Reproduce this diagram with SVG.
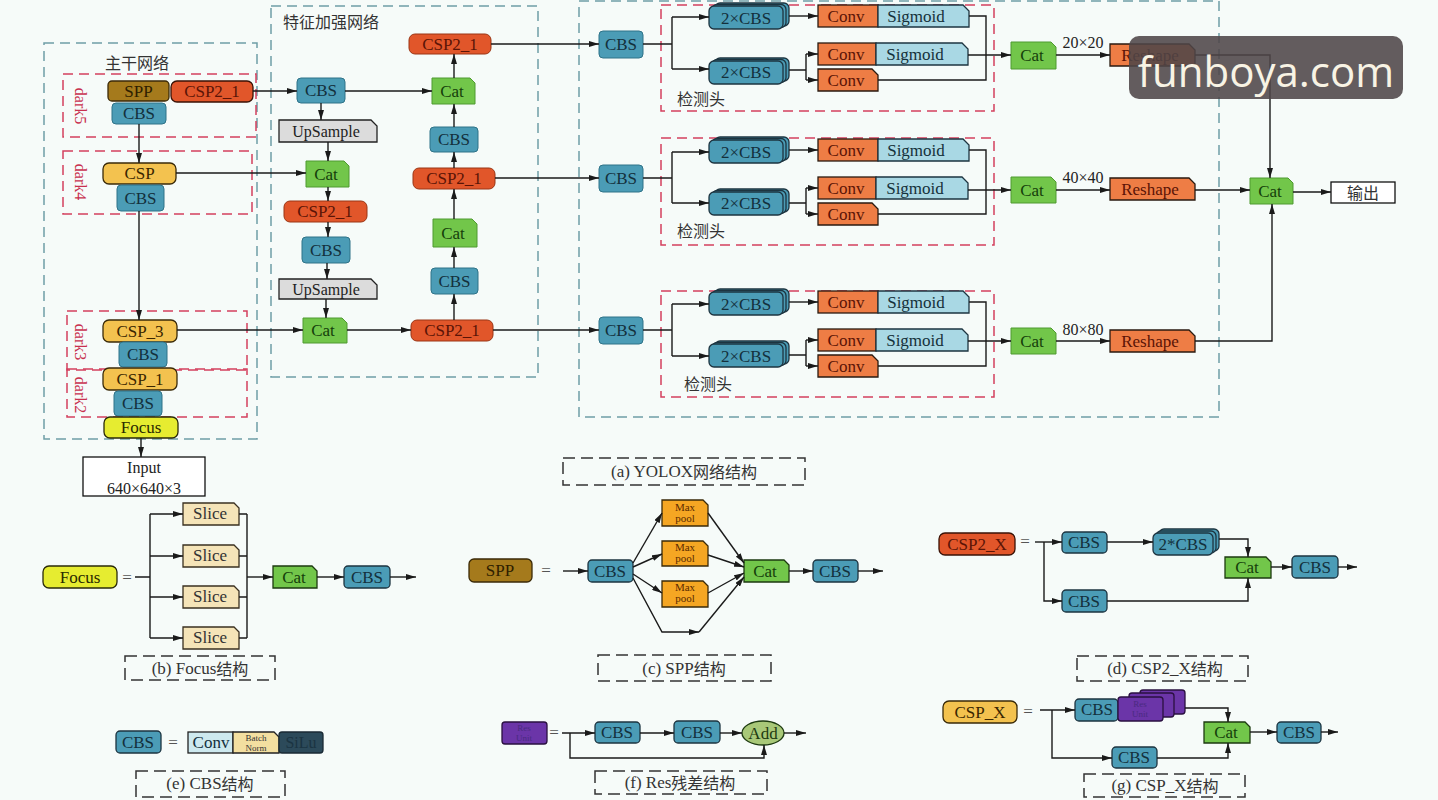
<svg xmlns="http://www.w3.org/2000/svg" width="1438" height="800" viewBox="0 0 1438 800">
<defs>
<marker id="a" viewBox="0 0 10 6" refX="10" refY="3" markerWidth="10" markerHeight="6" markerUnits="userSpaceOnUse" orient="auto"><path d="M0,0 L10,3 L0,6 z" fill="#1a1a1a"/></marker>
</defs>
<style>
text{font-family:"Liberation Serif","Noto Sans CJK SC",serif;text-anchor:middle;dominant-baseline:central;font-size:17px}
.cjk{font-family:"Noto Sans CJK SC","Liberation Serif",sans-serif;font-size:16px;fill:#333}
.s16{font-size:16px}
.s11{font-size:11px}
.s9{font-size:9px}
.c{fill:none;stroke:#1a1a1a;stroke-width:1.4}
.ca{fill:none;stroke:#1a1a1a;stroke-width:1.4;marker-end:url(#a)}
.gbox{fill:none;stroke:#6f9ea6;stroke-width:1.5;stroke-dasharray:10 6}
.rbox{fill:none;stroke:#d3405e;stroke-width:1.5;stroke-dasharray:10 6}
.kbox{fill:none;stroke:#333;stroke-width:1.5;stroke-dasharray:12 6}
.cbs{fill:#4b9cb6;stroke:#2f7388;stroke-width:1}
.cbsb{fill:#4b9cb6;stroke:#1d3440;stroke-width:1.3}
.tc{fill:#13303c}
.csp2{fill:#e1562a;stroke:#9a3514;stroke-width:1}
.csp2b{fill:#e1562a;stroke:#3a1206;stroke-width:1.3}
.tr{fill:#5b1406}
.cat{fill:#72c64a;stroke:#4f9a30;stroke-width:1}
.catb{fill:#72c64a;stroke:#1d3a10;stroke-width:1.3}
.tg{fill:#15400a}
.yel{fill:#f3c24f;stroke:#3a2a08;stroke-width:1.3}
.ty{fill:#3a2600}
.conv{fill:#ee7d45;stroke:#2a1a10;stroke-width:1.3}
.sig{fill:#a9d8e4;stroke:#1d3440;stroke-width:1.3}
.ts{fill:#14303a}
.up{fill:#dcdcdc;stroke:#222;stroke-width:1.3}
.slice{fill:#f5e4b8;stroke:#3a3020;stroke-width:1.3}
.mp{fill:#f5a623;stroke:#3a2a08;stroke-width:1.3}
.res{fill:#6b35a8;stroke:#2a1040;stroke-width:1.3}
.lbl{fill:#c8304e;font-size:16px}
.wm{font-family:"Open Sans","Noto Sans",sans-serif;font-size:42px;fill:#f8f3e4}
</style>
<rect x="0" y="0" width="1438" height="800" fill="#f6fbf9"/>

<g id="regions">
<rect class="gbox" x="44" y="43" width="213" height="396"/>
<text class="cjk" x="137" y="62">主干网络</text>
<rect class="gbox" x="271" y="6" width="267" height="371"/>
<text class="cjk" x="331" y="21">特征加强网络</text>
<rect class="gbox" x="579" y="1" width="640" height="416"/>
<rect class="rbox" x="63" y="74" width="193" height="63"/>
<rect class="rbox" x="63" y="151" width="189" height="63"/>
<rect class="rbox" x="67" y="311" width="180" height="59"/>
<rect class="rbox" x="67" y="369" width="180" height="48"/>
<text class="lbl" transform="translate(80,106) rotate(90)">dark5</text>
<text class="lbl" transform="translate(80,182) rotate(90)">dark4</text>
<text class="lbl" transform="translate(80,342) rotate(90)">dark3</text>
<text class="lbl" transform="translate(80,395) rotate(90)">dark2</text>
</g>

<g id="b-spp"><rect x="108" y="81" width="61" height="20" rx="4" fill="#a57a1c" stroke="#3b2a08" stroke-width="1.3"/><text x="138.5" y="91" fill="#2e1e00">SPP</text></g>
<g id="b-csp2"><rect class="csp2b" x="171" y="81" width="82" height="21" rx="6"/><text class="tr" x="212" y="91.5">CSP2_1</text></g>
<g id="b-cbs5"><rect class="cbs" x="112" y="103" width="54" height="21" rx="4"/><text class="tc" x="139" y="113.5">CBS</text></g>
<g id="b-csp4"><rect class="yel" x="103" y="163" width="73" height="21" rx="6"/><text class="ty" x="139.5" y="173.5">CSP</text></g>
<g id="b-cbs4"><rect class="cbs" x="117" y="185" width="47" height="26" rx="4"/><text class="tc" x="140.5" y="198">CBS</text></g>
<g id="b-csp3"><rect class="yel" x="103" y="320" width="74" height="22" rx="6"/><text class="ty" x="140" y="331">CSP_3</text></g>
<g id="b-cbs3"><rect class="cbs" x="119" y="342" width="48" height="25" rx="4"/><text class="tc" x="143" y="354.5">CBS</text></g>
<g id="b-csp1"><rect class="yel" x="103" y="368" width="74" height="22" rx="6"/><text class="ty" x="140" y="379">CSP_1</text></g>
<g id="b-cbs2"><rect class="cbs" x="114" y="391" width="48" height="25" rx="4"/><text class="tc" x="138" y="403.5">CBS</text></g>
<g id="b-focus"><rect x="104" y="417" width="74" height="21" rx="6" fill="#e6ec30" stroke="#2a2a08" stroke-width="1.3"/><text x="141" y="427.5" fill="#2a2a00">Focus</text></g>
<g id="b-input"><rect x="83" y="457" width="122" height="39" fill="#fff" stroke="#111" stroke-width="1.3"/><text class="s16" x="144" y="467" fill="#222">Input</text><text class="s16" x="144" y="488" fill="#222">640×640×3</text></g>

<g id="n-cbsA"><rect class="cbs" x="297" y="78" width="48" height="25" rx="4"/><text class="tc" x="321" y="90.5">CBS</text></g>
<g id="n-upA"><path class="up" d="M279 120 H371 L377 126 V142 H279 Z"/><text class="s16" x="326" y="131" fill="#222">UpSample</text></g>
<g id="n-cat1"><path class="cat" d="M306 161 H344 L349 166 V187 H306 Z"/><text class="tg" x="326" y="174">Cat</text></g>
<g id="n-csp2B"><rect class="csp2" x="284" y="201" width="83" height="21" rx="6"/><text class="tr" x="325" y="211.5">CSP2_1</text></g>
<g id="n-cbsB"><rect class="cbs" x="302" y="237" width="48" height="26" rx="4"/><text class="tc" x="326" y="250">CBS</text></g>
<g id="n-upB"><path class="up" d="M279 279 H371 L377 285 V299 H279 Z"/><text class="s16" x="326" y="289" fill="#222">UpSample</text></g>
<g id="n-cat2"><path class="cat" d="M303 318 H342 L347 323 V343 H303 Z"/><text class="tg" x="323" y="330.5">Cat</text></g>
<g id="n-csp2C"><rect class="csp2" x="411" y="320" width="82" height="21" rx="6"/><text class="tr" x="452" y="330.5">CSP2_1</text></g>
<g id="n-cbsC"><rect class="cbs" x="431" y="268" width="47" height="26" rx="4"/><text class="tc" x="454.5" y="281">CBS</text></g>
<g id="n-cat3"><path class="cat" d="M433 219 H472 L477 224 V247 H433 Z"/><text class="tg" x="453" y="233">Cat</text></g>
<g id="n-csp2D"><rect class="csp2" x="413" y="168" width="82" height="21" rx="6"/><text class="tr" x="454" y="178.5">CSP2_1</text></g>
<g id="n-cbsD"><rect class="cbs" x="430" y="127" width="48" height="25" rx="4"/><text class="tc" x="454" y="139.5">CBS</text></g>
<g id="n-cat4"><path class="cat" d="M432 78 H470 L475 83 V104 H432 Z"/><text class="tg" x="452" y="91">Cat</text></g>
<g id="n-csp2E"><rect class="csp2" x="409" y="34" width="82" height="20" rx="6"/><text class="tr" x="450" y="44">CSP2_1</text></g>

<g id="head1">
<rect class="rbox" x="661" y="5" width="333" height="106"/>
<rect class="cbs" x="599" y="31" width="44" height="27" rx="4"/><text class="tc" x="621" y="44.5">CBS</text>
<rect class="cbsb" x="715" y="3" width="74" height="23" rx="5"/><rect class="cbsb" x="712" y="4.5" width="74" height="23" rx="5"/><rect class="cbsb" x="709" y="6" width="74" height="23" rx="5"/><text class="tc" x="746" y="18">2×CBS</text>
<rect class="cbsb" x="715" y="58" width="74" height="23" rx="5"/><rect class="cbsb" x="712" y="59.5" width="74" height="23" rx="5"/><rect class="cbsb" x="709" y="61" width="74" height="23" rx="5"/><text class="tc" x="746" y="72.5">2×CBS</text>
<rect class="conv" x="818" y="5" width="60" height="22"/><text class="tr" x="846" y="16">Conv</text>
<path class="sig" d="M878 5 H963 L969 11 V27 H878 Z"/><text class="ts" x="916" y="16">Sigmoid</text>
<rect class="conv" x="818" y="43" width="58" height="22"/><text class="tr" x="846" y="54">Conv</text>
<path class="sig" d="M876 43 H962 L968 49 V65 H876 Z"/><text class="ts" x="915" y="54">Sigmoid</text>
<path class="conv" d="M818 69 H872 L878 75 V91 H818 Z"/><text class="tr" x="846" y="80">Conv</text>
<text class="cjk" x="701" y="98">检测头</text>
</g>
<g id="head2">
<rect class="rbox" x="661" y="138" width="333" height="107"/>
<rect class="cbs" x="599" y="165" width="44" height="27" rx="4"/><text class="tc" x="621" y="178.5">CBS</text>
<rect class="cbsb" x="715" y="137" width="74" height="23" rx="5"/><rect class="cbsb" x="712" y="138.5" width="74" height="23" rx="5"/><rect class="cbsb" x="709" y="140" width="74" height="23" rx="5"/><text class="tc" x="746" y="152">2×CBS</text>
<rect class="cbsb" x="715" y="189" width="74" height="23" rx="5"/><rect class="cbsb" x="712" y="190.5" width="74" height="23" rx="5"/><rect class="cbsb" x="709" y="192" width="74" height="23" rx="5"/><text class="tc" x="746" y="203.5">2×CBS</text>
<rect class="conv" x="818" y="139" width="60" height="22"/><text class="tr" x="846" y="150">Conv</text>
<path class="sig" d="M878 139 H963 L969 145 V161 H878 Z"/><text class="ts" x="916" y="150">Sigmoid</text>
<rect class="conv" x="818" y="177" width="58" height="22"/><text class="tr" x="846" y="188">Conv</text>
<path class="sig" d="M876 177 H962 L968 183 V199 H876 Z"/><text class="ts" x="915" y="188">Sigmoid</text>
<path class="conv" d="M818 203 H872 L878 209 V225 H818 Z"/><text class="tr" x="846" y="214">Conv</text>
<text class="cjk" x="701" y="230">检测头</text>
</g>
<g id="head3">
<rect class="rbox" x="661" y="291" width="333" height="106"/>
<rect class="cbs" x="599" y="317" width="44" height="27" rx="4"/><text class="tc" x="621" y="330.5">CBS</text>
<rect class="cbsb" x="715" y="289" width="74" height="23" rx="5"/><rect class="cbsb" x="712" y="290.5" width="74" height="23" rx="5"/><rect class="cbsb" x="709" y="292" width="74" height="23" rx="5"/><text class="tc" x="746" y="304">2×CBS</text>
<rect class="cbsb" x="715" y="341" width="74" height="23" rx="5"/><rect class="cbsb" x="712" y="342.5" width="74" height="23" rx="5"/><rect class="cbsb" x="709" y="344" width="74" height="23" rx="5"/><text class="tc" x="746" y="356">2×CBS</text>
<rect class="conv" x="818" y="291" width="60" height="22"/><text class="tr" x="846" y="302">Conv</text>
<path class="sig" d="M878 291 H963 L969 297 V313 H878 Z"/><text class="ts" x="916" y="302">Sigmoid</text>
<rect class="conv" x="818" y="329" width="58" height="22"/><text class="tr" x="846" y="340">Conv</text>
<path class="sig" d="M876 329 H962 L968 335 V351 H876 Z"/><text class="ts" x="915" y="340">Sigmoid</text>
<path class="conv" d="M818 355 H872 L878 361 V377 H818 Z"/><text class="tr" x="846" y="366">Conv</text>
<text class="cjk" x="708" y="383">检测头</text>
</g>

<g id="out1"><path class="cat" d="M1011 42 H1051 L1056 47 V69 H1011 Z"/><text class="tg" x="1032" y="55.5">Cat</text><text class="s16" x="1083" y="42" fill="#222">20×20</text><path class="conv" d="M1110 44 H1189 L1195 50 V66 H1110 Z"/><text class="tr" x="1150" y="55">Reshape</text></g>
<g id="out2"><path class="cat" d="M1011 177 H1051 L1056 182 V203 H1011 Z"/><text class="tg" x="1032" y="190">Cat</text><text class="s16" x="1083" y="177" fill="#222">40×40</text><path class="conv" d="M1110 178 H1189 L1195 184 V200 H1110 Z"/><text class="tr" x="1150" y="189">Reshape</text></g>
<g id="out3"><path class="cat" d="M1011 328 H1051 L1056 333 V354 H1011 Z"/><text class="tg" x="1032" y="341">Cat</text><text class="s16" x="1083" y="329" fill="#222">80×80</text><path class="conv" d="M1110 330 H1189 L1195 336 V352 H1110 Z"/><text class="tr" x="1150" y="341">Reshape</text></g>
<g id="final-cat"><path class="cat" d="M1250 178 H1288 L1293 183 V204 H1250 Z"/><text class="tg" x="1270" y="191">Cat</text></g>
<g id="output"><rect x="1331" y="182" width="64" height="21" fill="#fff" stroke="#111" stroke-width="1.3"/><text class="cjk" x="1363" y="192" fill="#222">输出</text></g>

<g id="focus-def"><rect x="43" y="566" width="74" height="22" rx="6" fill="#e6ec30" stroke="#2a2a08" stroke-width="1.3"/><text x="80" y="577" fill="#2a2a00">Focus</text><text x="127" y="577" fill="#555">=</text></g>
<g id="slice1"><path class="slice" d="M183 503 H234 L239 508 V525 H183 Z"/><text x="210" y="513" fill="#333">Slice</text></g>
<g id="slice2"><path class="slice" d="M183 545 H234 L239 550 V567 H183 Z"/><text x="210" y="555" fill="#333">Slice</text></g>
<g id="slice3"><path class="slice" d="M183 586 H234 L239 591 V608 H183 Z"/><text x="210" y="596" fill="#333">Slice</text></g>
<g id="slice4"><path class="slice" d="M183 627 H234 L239 632 V649 H183 Z"/><text x="210" y="637" fill="#333">Slice</text></g>
<g id="focus-cat"><path class="catb" d="M273 566 H312 L317 571 V588 H273 Z"/><text class="tg" x="294" y="577">Cat</text></g>
<g id="focus-cbs"><rect class="cbsb" x="344" y="566" width="46" height="22" rx="4"/><text class="tc" x="367" y="577">CBS</text></g>
<g id="cap-b"><rect class="kbox" x="125" y="656" width="150" height="24"/><text x="200" y="668" fill="#333">(b) Focus<tspan font-family="Noto Sans CJK SC" font-size="16">结构</tspan></text></g>

<g id="cap-a"><rect class="kbox" x="563" y="458" width="242" height="27"/><text x="684" y="471" fill="#333">(a) YOLOX<tspan font-family="Noto Sans CJK SC" font-size="16">网络结构</tspan></text></g>
<g id="spp-def"><rect x="469" y="559" width="63" height="23" rx="5" fill="#a57a1c" stroke="#3b2a08" stroke-width="1.3"/><text x="500" y="570.5" fill="#2e1e00">SPP</text><text x="546" y="570" fill="#555">=</text></g>
<g id="spp-cbs1"><rect class="cbsb" x="588" y="560" width="45" height="22" rx="4"/><text class="tc" x="610" y="571">CBS</text></g>
<g id="mp1"><path class="mp" d="M662 500 H703 L708 505 V526 H662 Z"/><text class="s11" x="685" y="507" fill="#5a2a00">Max</text><text class="s11" x="685" y="518" fill="#5a2a00">pool</text></g>
<g id="mp2"><path class="mp" d="M662 541 H703 L708 546 V566 H662 Z"/><text class="s11" x="685" y="547" fill="#5a2a00">Max</text><text class="s11" x="685" y="558" fill="#5a2a00">pool</text></g>
<g id="mp3"><path class="mp" d="M662 581 H703 L708 586 V607 H662 Z"/><text class="s11" x="685" y="587" fill="#5a2a00">Max</text><text class="s11" x="685" y="598" fill="#5a2a00">pool</text></g>
<g id="spp-cat"><path class="catb" d="M744 560 H784 L789 565 V582 H744 Z"/><text class="tg" x="765" y="571">Cat</text></g>
<g id="spp-cbs2"><rect class="cbsb" x="813" y="560" width="45" height="22" rx="4"/><text class="tc" x="835" y="571">CBS</text></g>
<g id="cap-c"><rect class="kbox" x="598" y="655" width="173" height="26"/><text x="684" y="668" fill="#333">(c) SPP<tspan font-family="Noto Sans CJK SC" font-size="16">结构</tspan></text></g>

<g id="csp2x-def"><rect class="csp2b" x="939" y="533" width="76" height="22" rx="6"/><text class="tr" x="977" y="544">CSP2_X</text><text x="1025" y="541" fill="#555">=</text></g>
<g id="csp2x-cbs1"><rect class="cbsb" x="1062" y="532" width="45" height="21" rx="4"/><text class="tc" x="1084" y="542">CBS</text></g>
<g id="csp2x-2cbs"><rect class="cbsb" x="1159" y="529" width="60" height="22" rx="5"/><rect class="cbsb" x="1156" y="531" width="60" height="22" rx="5"/><rect class="cbsb" x="1153" y="533" width="60" height="22" rx="5"/><text class="tc" x="1183" y="544">2*CBS</text></g>
<g id="csp2x-cat"><path class="catb" d="M1225 557 H1266 L1271 562 V578 H1225 Z"/><text class="tg" x="1247" y="567.5">Cat</text></g>
<g id="csp2x-cbs3"><rect class="cbsb" x="1292" y="556" width="46" height="22" rx="4"/><text class="tc" x="1315" y="567">CBS</text></g>
<g id="csp2x-cbs2"><rect class="cbsb" x="1062" y="590" width="45" height="22" rx="4"/><text class="tc" x="1084" y="601">CBS</text></g>
<g id="cap-d"><rect class="kbox" x="1077" y="656" width="171" height="25"/><text x="1165" y="668" fill="#333">(d) CSP2_X<tspan font-family="Noto Sans CJK SC" font-size="16">结构</tspan></text></g>

<g id="cbs-def"><rect class="cbsb" x="116" y="731" width="45" height="22" rx="4"/><text class="tc" x="138" y="742">CBS</text><text x="173" y="742" fill="#555">=</text></g>
<g id="cbs-conv"><rect x="188" y="732" width="45" height="21" fill="#cde9ef" stroke="#222" stroke-width="1.3"/><text class="tc" x="211" y="742">Conv</text></g>
<g id="cbs-bn"><path d="M233 732 H274 L279 737 V753 H233 Z" fill="#f3dfa0" stroke="#222" stroke-width="1.3"/><text class="s9" x="256" y="737.5" fill="#333">Batch</text><text class="s9" x="256" y="747.5" fill="#333">Norm</text></g>
<g id="cbs-silu"><rect x="279" y="732" width="44" height="21" rx="3" fill="#2c4a5a" stroke="#1a2a35" stroke-width="1.3"/><text class="s16" x="301" y="742" fill="#1b3442">SiLu</text></g>
<g id="cap-e"><rect class="kbox" x="136" y="771" width="149" height="26"/><text x="210" y="783" fill="#333">(e) CBS<tspan font-family="Noto Sans CJK SC" font-size="16">结构</tspan></text></g>

<g id="res-def"><rect class="res" x="502" y="722" width="45" height="22" rx="3"/><text class="s9" x="524" y="728" fill="#4a2a80">Res</text><text class="s9" x="524" y="738" fill="#4a2a80">Unit</text><text x="554" y="732" fill="#555">=</text></g>
<g id="res-cbs1"><rect class="cbsb" x="595" y="722" width="45" height="21" rx="4"/><text class="tc" x="617" y="732">CBS</text></g>
<g id="res-cbs2"><rect class="cbsb" x="674" y="721" width="46" height="22" rx="4"/><text class="tc" x="697" y="732">CBS</text></g>
<g id="res-add"><ellipse cx="763" cy="733" rx="21" ry="12" fill="#a8c878" stroke="#1d3a10" stroke-width="1.3"/><text x="763" y="733" fill="#1d3a10">Add</text></g>
<g id="cap-f"><rect class="kbox" x="595" y="771" width="172" height="23"/><text x="680" y="782" fill="#333">(f) Res<tspan font-family="Noto Sans CJK SC" font-size="16">残差结构</tspan></text></g>

<g id="cspx-def"><rect class="yel" x="943" y="701" width="74" height="22" rx="6"/><text class="ty" x="980" y="712">CSP_X</text><text x="1028" y="711" fill="#555">=</text></g>
<g id="cspx-cbs1"><rect class="cbsb" x="1075" y="699" width="43" height="22" rx="4"/><text class="tc" x="1097" y="709">CBS</text></g>
<g id="cspx-res"><rect class="res" x="1140" y="690" width="45" height="24" rx="3"/><rect class="res" x="1129" y="693" width="45" height="24" rx="3"/><rect class="res" x="1118" y="697" width="45" height="24" rx="3"/><text class="s9" x="1140" y="704" fill="#4a2a80">Res</text><text class="s9" x="1140" y="714" fill="#4a2a80">Unit</text></g>
<g id="cspx-cat"><path class="catb" d="M1204 722 H1245 L1250 727 V743 H1204 Z"/><text class="tg" x="1226" y="732.5">Cat</text></g>
<g id="cspx-cbs3"><rect class="cbsb" x="1277" y="722" width="44" height="21" rx="4"/><text class="tc" x="1299" y="732">CBS</text></g>
<g id="cspx-cbs2"><rect class="cbsb" x="1112" y="747" width="45" height="21" rx="4"/><text class="tc" x="1134" y="757">CBS</text></g>
<g id="cap-g"><rect class="kbox" x="1084" y="774" width="161" height="23"/><text x="1165" y="785" fill="#333">(g) CSP_X<tspan font-family="Noto Sans CJK SC" font-size="16">结构</tspan></text></g>

<g id="connectors">
<line class="ca" x1="139" y1="124" x2="139" y2="163"/>
<line class="ca" x1="139" y1="211" x2="139" y2="320"/>
<line class="ca" x1="141" y1="438" x2="141" y2="457"/>
<line class="ca" x1="253" y1="91" x2="297" y2="91"/>
<line class="ca" x1="321" y1="103" x2="321" y2="120"/>
<line class="ca" x1="328" y1="142" x2="328" y2="161"/>
<line class="ca" x1="176" y1="173" x2="306" y2="173"/>
<line class="ca" x1="328" y1="187" x2="328" y2="201"/>
<line class="ca" x1="328" y1="222" x2="328" y2="237"/>
<line class="ca" x1="327" y1="263" x2="327" y2="279"/>
<line class="ca" x1="326" y1="299" x2="326" y2="318"/>
<line class="ca" x1="177" y1="330" x2="303" y2="330"/>
<line class="ca" x1="347" y1="330" x2="411" y2="330"/>
<line class="ca" x1="454" y1="320" x2="454" y2="294"/>
<line class="ca" x1="454" y1="268" x2="454" y2="247"/>
<line class="ca" x1="454" y1="219" x2="454" y2="189"/>
<line class="ca" x1="454" y1="168" x2="454" y2="152"/>
<line class="ca" x1="454" y1="127" x2="454" y2="104"/>
<line class="ca" x1="345" y1="91" x2="432" y2="91"/>
<line class="ca" x1="454" y1="78" x2="454" y2="54"/>
<line class="ca" x1="491" y1="44" x2="599" y2="44"/>
<line class="ca" x1="495" y1="178" x2="599" y2="178"/>
<line class="ca" x1="493" y1="330" x2="599" y2="330"/>
<path class="c" d="M643 44 H672 M672 17 V69"/>
<line class="ca" x1="672" y1="17" x2="709" y2="17"/>
<line class="ca" x1="672" y1="69" x2="709" y2="69"/>
<line class="ca" x1="789" y1="16" x2="818" y2="16"/>
<path class="c" d="M789 70 H806 M806 54 V80"/>
<line class="ca" x1="806" y1="54" x2="818" y2="54"/>
<line class="ca" x1="806" y1="80" x2="818" y2="80"/>
<path class="c" d="M969 16 H986 V80 H878"/>
<line class="ca" x1="968" y1="55" x2="1011" y2="55"/>
<path class="c" d="M643 178 H672 M672 152 V203"/>
<line class="ca" x1="672" y1="152" x2="709" y2="152"/>
<line class="ca" x1="672" y1="203" x2="709" y2="203"/>
<line class="ca" x1="789" y1="150" x2="818" y2="150"/>
<path class="c" d="M789 203 H806 M806 188 V214"/>
<line class="ca" x1="806" y1="188" x2="818" y2="188"/>
<line class="ca" x1="806" y1="214" x2="818" y2="214"/>
<path class="c" d="M969 150 H986 V214 H878"/>
<line class="ca" x1="968" y1="190" x2="1011" y2="190"/>
<path class="c" d="M643 330 H672 M672 304 V356"/>
<line class="ca" x1="672" y1="304" x2="709" y2="304"/>
<line class="ca" x1="672" y1="356" x2="709" y2="356"/>
<line class="ca" x1="789" y1="302" x2="818" y2="302"/>
<path class="c" d="M789 355 H806 M806 340 V366"/>
<line class="ca" x1="806" y1="340" x2="818" y2="340"/>
<line class="ca" x1="806" y1="366" x2="818" y2="366"/>
<path class="c" d="M969 302 H986 V366 H878"/>
<line class="ca" x1="968" y1="341" x2="1011" y2="341"/>
<line class="ca" x1="1056" y1="55" x2="1110" y2="55"/>
<line class="ca" x1="1056" y1="190" x2="1110" y2="190"/>
<line class="ca" x1="1056" y1="341" x2="1110" y2="341"/>
<path class="ca" d="M1195 55 H1270 V178"/>
<line class="ca" x1="1195" y1="190" x2="1250" y2="190"/>
<path class="ca" d="M1195 341 H1272 V204"/>
<line class="ca" x1="1293" y1="192" x2="1331" y2="192"/>
<path class="c" d="M135 577 H150 M150 514 V638"/>
<line class="ca" x1="150" y1="514" x2="183" y2="514"/>
<line class="ca" x1="150" y1="556" x2="183" y2="556"/>
<line class="ca" x1="150" y1="597" x2="183" y2="597"/>
<line class="ca" x1="150" y1="638" x2="183" y2="638"/>
<path class="c" d="M239 514 H247 M239 556 H247 M239 597 H247 M239 638 H247 M247 514 V638"/>
<line class="ca" x1="247" y1="577" x2="273" y2="577"/>
<line class="ca" x1="317" y1="577" x2="344" y2="577"/>
<line class="ca" x1="390" y1="577" x2="416" y2="577"/>
<line class="ca" x1="563" y1="571" x2="588" y2="571"/>
<line class="ca" x1="633" y1="563" x2="662" y2="513"/>
<line class="ca" x1="633" y1="567" x2="662" y2="554"/>
<line class="ca" x1="633" y1="574" x2="662" y2="593"/>
<path class="ca" d="M633 578 L662 632 H699"/>
<line class="ca" x1="708" y1="513" x2="744" y2="563"/>
<line class="ca" x1="708" y1="555" x2="744" y2="567"/>
<line class="ca" x1="708" y1="593" x2="744" y2="573"/>
<line class="ca" x1="699" y1="632" x2="744" y2="577"/>
<line class="ca" x1="789" y1="571" x2="813" y2="571"/>
<line class="ca" x1="858" y1="571" x2="883" y2="571"/>
<line class="ca" x1="1035" y1="542" x2="1062" y2="542"/>
<path class="ca" d="M1044 542 V601 H1062"/>
<line class="ca" x1="1107" y1="542" x2="1153" y2="542"/>
<path class="ca" d="M1219 539 H1248 V557"/>
<path class="ca" d="M1107 601 H1248 V578"/>
<line class="ca" x1="1271" y1="567" x2="1292" y2="567"/>
<line class="ca" x1="1338" y1="567" x2="1357" y2="567"/>
<line class="ca" x1="562" y1="733" x2="595" y2="733"/>
<path class="ca" d="M570 733 V758 H764 V745"/>
<line class="ca" x1="640" y1="733" x2="674" y2="733"/>
<line class="ca" x1="720" y1="733" x2="742" y2="733"/>
<line class="ca" x1="784" y1="733" x2="806" y2="733"/>
<line class="ca" x1="1040" y1="710" x2="1075" y2="710"/>
<path class="ca" d="M1052 710 V758 H1112"/>
<path class="ca" d="M1185 708 H1228 V722"/>
<path class="ca" d="M1157 758 H1228 V743"/>
<line class="ca" x1="1250" y1="732" x2="1277" y2="732"/>
<line class="ca" x1="1321" y1="732" x2="1338" y2="732"/>
</g>

<g id="watermark"><rect x="1129" y="36" width="274" height="63" rx="10" fill="#4f4548" opacity="0.88"/><text class="wm" x="1266" y="70">funboya.com</text></g>
</svg>
